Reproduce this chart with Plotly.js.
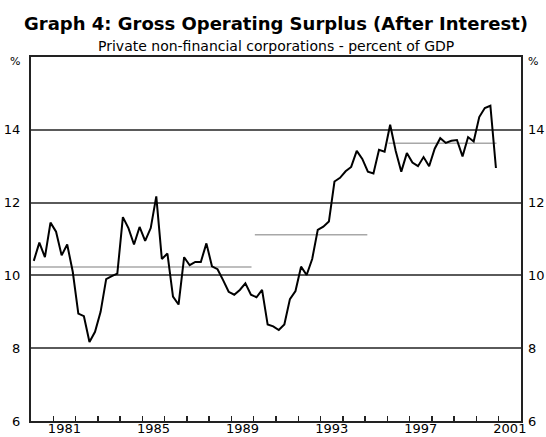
<!DOCTYPE html>
<html>
<head>
<meta charset="utf-8">
<script src="https://cdn.plot.ly/plotly-3.0.1.min.js"></script>
<style>
  html, body { margin: 0; padding: 0; background: #fff; }
  #chart { width: 546px; height: 437px; }
</style>
</head>
<body>
<div id="chart"></div>
<script>
// Gross operating surplus after interest, quarterly from Mar 1980, % of GDP
const startYear = 1980;
const gosShare = [
  10.4, 10.9, 10.5, 11.45, 11.2, 10.55, 10.85, 10.1,
  8.95, 8.88, 8.17, 8.45, 9.0, 9.9, 9.98, 10.05,
  11.6, 11.3, 10.85, 11.33, 10.95, 11.3, 12.17, 10.45,
  10.6, 9.42, 9.2, 10.5, 10.28, 10.37, 10.37, 10.88,
  10.25, 10.17, 9.87, 9.55, 9.47, 9.6, 9.78, 9.47,
  9.4, 9.6, 8.65, 8.6, 8.5, 8.65, 9.35, 9.57,
  10.24, 10.01, 10.45, 11.25, 11.34, 11.48, 12.58, 12.68,
  12.86, 12.98, 13.42, 13.2, 12.85, 12.8, 13.45, 13.4,
  14.14, 13.42, 12.85, 13.36, 13.1, 13.0, 13.25, 13.0,
  13.48, 13.77, 13.64, 13.7, 13.72, 13.27, 13.8, 13.68,
  14.35, 14.6, 14.66, 12.95
];

// Period averages (grey lines)
const avgFrom = [1980.0, 1990.05, 1996.05];
const avgTo = [1989.9, 1995.1, 2000.9];
const avgLevel = [10.23, 11.12, 13.63];

// Axis labels
const yearTicks = [1981, 1982, 1983, 1984, 1985, 1986, 1987, 1988, 1989, 1990,
  1991, 1992, 1993, 1994, 1995, 1996, 1997, 1998, 1999, 2000, 2001];
const yearLabels = ["1981", "1985", "1989", "1993", "1997", "2001"];
const pctTicks = [6, 8, 10, 12, 14];

const quarterX = gosShare.map((_, i) => startYear + (i + 0.5) / 4);

const labelFont = { family: "DejaVu Sans", size: 13, color: "#000" };

const traces = avgFrom.map((from, i) => ({
  x: [from, avgTo[i]],
  y: [avgLevel[i], avgLevel[i]],
  type: "scatter", mode: "lines",
  line: { color: "#a8a8a8", width: 1.5 },
  hoverinfo: "skip"
}));

traces.push({
  x: quarterX, y: gosShare,
  type: "scatter", mode: "lines",
  line: { color: "#000", width: 2 }
});

// invisible trace so the right-hand axis gets drawn
traces.push({ x: [2000], y: [10], yaxis: "y2", mode: "markers", marker: { opacity: 0 }, hoverinfo: "skip" });

const layout = {
  width: 546, height: 437,
  margin: { l: 31, r: 25, t: 57, b: 16 },
  paper_bgcolor: "#fff", plot_bgcolor: "#fff",
  showlegend: false,
  title: {
    text: "Graph 4: Gross Operating Surplus (After Interest)",
    font: { family: "DejaVu Sans", size: 18, weight: "bold", color: "#000" },
    xref: "paper", x: 0.5, xanchor: "center",
    yref: "container", y: 0.945, yanchor: "middle"
  },
  // labels sit mid-year, tick marks on year boundaries
  xaxis: {
    range: [1980, 2002],
    tickvals: yearLabels.map(l => Number(l) + 0.5), ticktext: yearLabels,
    ticks: "", tickfont: labelFont, ticklabelstandoff: -6,
    minor: { tickvals: yearTicks, ticks: "inside", ticklen: 5, tickwidth: 1.5, tickcolor: "#222", showgrid: false },
    showgrid: false, zeroline: false,
    showline: true, mirror: true, linecolor: "#222", linewidth: 2,
    automargin: false
  },
  yaxis: {
    range: [6, 16], tickvals: pctTicks,
    ticks: "", ticklabelstandoff: 6, tickfont: labelFont,
    showgrid: true, gridcolor: "#5a5a5a", gridwidth: 2,
    zeroline: false,
    showline: true, mirror: true, linecolor: "#222", linewidth: 2,
    automargin: false
  },
  yaxis2: {
    overlaying: "y", side: "right", anchor: "x",
    range: [6, 16], tickvals: pctTicks,
    ticks: "", ticklabelstandoff: 6, tickfont: labelFont,
    showgrid: false, zeroline: false, showline: false,
    automargin: false
  },
  annotations: [
    {
      text: "Private non-financial corporations - percent of GDP",
      xref: "paper", yref: "paper", x: 0.5, y: 1.03, xanchor: "center", yanchor: "middle",
      showarrow: false, font: { family: "DejaVu Sans", size: 14, color: "#000" }
    },
    {
      text: "%", xref: "paper", yref: "paper", x: -0.033, y: 0.989,
      xanchor: "center", yanchor: "middle", showarrow: false,
      font: { family: "DejaVu Sans", size: 11, color: "#000" }
    },
    {
      text: "%", xref: "paper", yref: "paper", x: 1.025, y: 0.989,
      xanchor: "center", yanchor: "middle", showarrow: false,
      font: { family: "DejaVu Sans", size: 11, color: "#000" }
    }
  ]
};

Plotly.newPlot("chart", traces, layout, { staticPlot: true });
</script>
</body>
</html>
